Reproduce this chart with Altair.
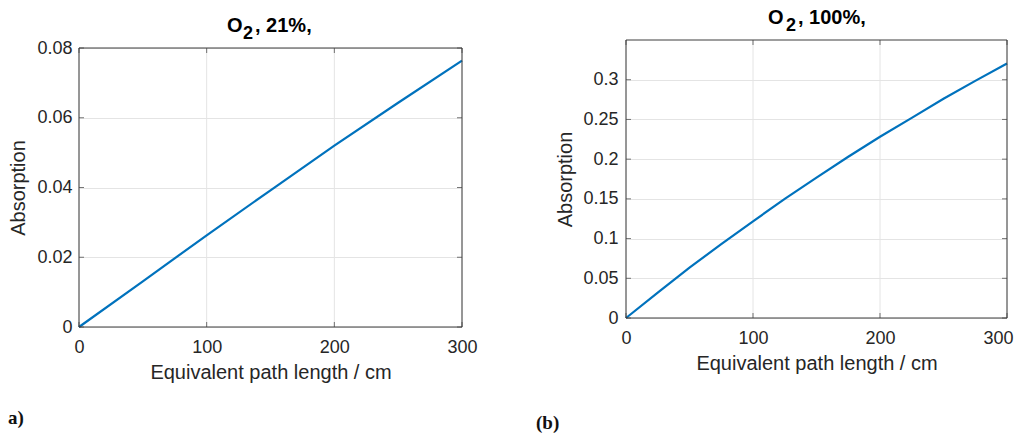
import altair as alt
import pandas as pd

# ---- data ----
path_a = [0, 50, 100, 150, 200, 250, 300]
absorption_a = [0.0, 0.0131, 0.0263, 0.0392, 0.0520, 0.0643, 0.0764]

path_b = [0, 25, 50, 75, 100, 125, 150, 175, 200, 225, 250, 275, 300]
absorption_b = [0.0, 0.0320, 0.0634, 0.0930, 0.1217, 0.1500, 0.1767,
                0.2030, 0.2282, 0.2520, 0.2760, 0.2985, 0.3204]

title_main = ["O", "O"]
title_sub = ["2", "2"]
title_rest = [", 21%,", ", 100%,"]
panel_labels = ["a)", "(b)"]
x_ticks = [0, 100, 200, 300]
y_ticks_a = [0, 0.02, 0.04, 0.06, 0.08]
y_ticks_b = [0, 0.05, 0.1, 0.15, 0.2, 0.25, 0.3]
y_domain_a = [0, 0.08]
y_domain_b = [0, 0.35]
x_domain = [0, 300]
x_title = "Equivalent path length / cm"
y_title = "Absorption"

LINE = "#0072BD"
TXT = "#262626"
BOX = "#3c3c3c"
GRID = "#e4e4e4"


def text_mark(s, x, y, size, font="Liberation Sans", weight="bold", color="#000000"):
    return alt.Chart(pd.DataFrame({"t": [s]})).mark_text(
        font=font, fontSize=size, fontWeight=weight, align="left",
        baseline="alphabetic", color=color
    ).encode(text="t:N", x=alt.value(x), y=alt.value(y))


def panel(i, xs, ys, ydom, yticks, w, h, yrange, title_x, title_y,
          label_x, label_y, y_label_pad, y_title_pad, last_label_shift=0):
    yscale = alt.Scale(domain=ydom, nice=False)
    if yrange is not None:
        yscale = alt.Scale(domain=ydom, nice=False, range=yrange)
    xscale = alt.Scale(domain=x_domain, nice=False)

    df = pd.DataFrame({"path": xs, "absorption": ys})
    x_axis_kw = dict(values=x_ticks, title=x_title, format="d", grid=False,
                     labelFlush=False, labelPadding=11, titlePadding=6)
    if last_label_shift:
        x_axis_kw["labelOffset"] = alt.expr(
            f"datum.value >= {x_domain[1]} ? {last_label_shift} : 0")
    x = alt.X("path:Q", scale=xscale, axis=alt.Axis(**x_axis_kw))
    y = alt.Y("absorption:Q", scale=yscale,
              axis=alt.Axis(values=yticks, title=y_title, format="~g", grid=True,
                            labelFlush=False,
                            labelPadding=y_label_pad, titlePadding=y_title_pad))

    # vertical grid lines at the x ticks, spanning the y domain
    vgrid_df = pd.DataFrame({"path": x_ticks,
                             "y0": [ydom[0]] * len(x_ticks),
                             "y1": [ydom[1]] * len(x_ticks)})
    vgrid = alt.Chart(vgrid_df).mark_rule(color=GRID, strokeWidth=1).encode(
        x=alt.X("path:Q", scale=xscale),
        y=alt.Y("y0:Q", scale=yscale), y2="y1:Q")

    line = alt.Chart(df).mark_line(color=LINE, strokeWidth=2.2).encode(x=x, y=y)

    # inward tick marks (MATLAB style) on all four sides
    xt_bot = pd.DataFrame({"path": x_ticks, "yy": [ydom[0]] * len(x_ticks)})
    xt_top = pd.DataFrame({"path": x_ticks, "yy": [ydom[1]] * len(x_ticks)})
    yt_l = pd.DataFrame({"xx": [x_domain[0]] * len(yticks), "v": yticks})
    yt_r = pd.DataFrame({"xx": [x_domain[1]] * len(yticks), "v": yticks})
    ticks = [
        alt.Chart(xt_bot).mark_tick(orient="vertical", size=5, thickness=1,
                                    color=BOX, yOffset=-2.5).encode(
            x=alt.X("path:Q", scale=xscale), y=alt.Y("yy:Q", scale=yscale)),
        alt.Chart(xt_top).mark_tick(orient="vertical", size=5, thickness=1,
                                    color=BOX, yOffset=2.5).encode(
            x=alt.X("path:Q", scale=xscale), y=alt.Y("yy:Q", scale=yscale)),
        alt.Chart(yt_l).mark_tick(orient="horizontal", size=5, thickness=1,
                                  color=BOX, xOffset=2.5).encode(
            x=alt.X("xx:Q", scale=xscale), y=alt.Y("v:Q", scale=yscale)),
        alt.Chart(yt_r).mark_tick(orient="horizontal", size=5, thickness=1,
                                  color=BOX, xOffset=-2.5).encode(
            x=alt.X("xx:Q", scale=xscale), y=alt.Y("v:Q", scale=yscale)),
    ]

    # axes box
    hbox = pd.DataFrame({"yy": ydom, "x0": [x_domain[0]] * 2, "x1": [x_domain[1]] * 2})
    vbox = pd.DataFrame({"xx": x_domain, "y0": [ydom[0]] * 2, "y1": [ydom[1]] * 2})
    box_h = alt.Chart(hbox).mark_rule(color=BOX, strokeWidth=1).encode(
        x=alt.X("x0:Q", scale=xscale), x2="x1:Q", y=alt.Y("yy:Q", scale=yscale))
    box_v = alt.Chart(vbox).mark_rule(color=BOX, strokeWidth=1).encode(
        x=alt.X("xx:Q", scale=xscale), y=alt.Y("y0:Q", scale=yscale), y2="y1:Q")

    tx, ty = title_x, title_y
    titles = [
        text_mark(title_main[i], tx[0], ty, 20),
        text_mark(title_sub[i], tx[1], ty + 7, 18),
        text_mark(title_rest[i], tx[2], ty, 20),
    ]
    lab = text_mark(panel_labels[i], label_x, label_y, 19,
                    font="Liberation Serif", weight="bold", color="#111111")

    layers = [vgrid, line] + ticks + [box_h, box_v] + titles + [lab]
    return alt.layer(*layers).properties(width=w, height=h)


# left: view spans page y 39..326, the plot box starts 8px lower
left = panel(0, path_a, absorption_a, y_domain_a, y_ticks_a, 383, 287, [287, 8],
             (148, 164, 176), -8, -71, 384, 7, 8)
right = panel(1, path_b, absorption_b, y_domain_b, y_ticks_b, 381, 278, None,
              (142, 160, 172), -16, -90, 389, 8, 7, last_label_shift=-9)

chart = alt.hconcat(left, right, spacing=58).properties(
    padding=0, background="white"
).configure_view(
    strokeWidth=0
).configure_axis(
    labelFont="Liberation Sans", labelFontSize=18, labelColor=TXT,
    titleFont="Liberation Sans", titleFontSize=20, titleFontWeight="normal",
    titleColor=TXT, gridColor=GRID, gridWidth=1, domain=False, ticks=False,
)

chart.save("out.html", embed_options={"renderer": "svg", "actions": False})
